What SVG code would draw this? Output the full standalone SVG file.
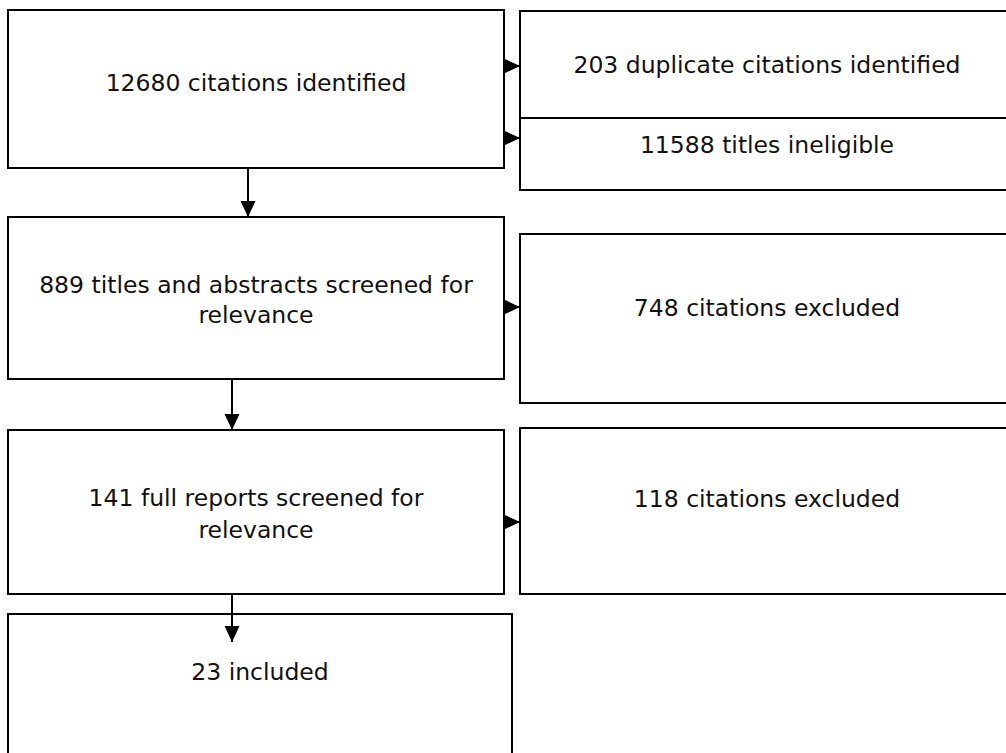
<svg xmlns="http://www.w3.org/2000/svg" width="1006" height="753" viewBox="0 0 1006 753">
<style>
.box{fill:#fff;stroke:#000;stroke-width:2}
.t{font-family:"DejaVu Sans",sans-serif;font-size:23.5px;fill:#111;text-anchor:middle}
.c{stroke:#000;stroke-width:2;fill:none}
</style>
<defs>
<marker id="ah" markerUnits="userSpaceOnUse" markerWidth="16" markerHeight="16" viewBox="0 0 16 16" refX="16" refY="8" orient="auto">
<path d="M0,0.5 L16,8 L0,15.5 Z" fill="#000"/>
</marker>
</defs>
<rect width="1006" height="753" fill="#fff"/>
<g id="n1"><rect class="box" x="8" y="10" width="496" height="158"/><text class="t" x="256" y="91">12680 citations identified</text></g>
<g id="n2"><rect class="box" x="520" y="11" width="500" height="107"/><text class="t" x="767" y="73">203 duplicate citations identified</text></g>
<g id="n3"><rect class="box" x="520" y="118" width="500" height="72"/><text class="t" x="767" y="153">11588 titles ineligible</text></g>
<g id="n4"><rect class="box" x="8" y="217" width="496" height="162"/><text class="t" x="256" y="293">889 titles and abstracts screened for</text><text class="t" x="256" y="323">relevance</text></g>
<g id="n5"><rect class="box" x="520" y="234" width="500" height="169"/><text class="t" x="767" y="316">748 citations excluded</text></g>
<g id="n6"><rect class="box" x="8" y="430" width="496" height="164"/><text class="t" x="256" y="506">141 full reports screened for</text><text class="t" x="256" y="538">relevance</text></g>
<g id="n7"><rect class="box" x="520" y="428" width="500" height="166"/><text class="t" x="767" y="507">118 citations excluded</text></g>
<g id="n8"><rect class="box" x="8" y="614" width="504" height="160"/><text class="t" x="260" y="680">23 included</text></g>
<g id="connectors">
<line class="c" x1="248" y1="168" x2="248" y2="217" marker-end="url(#ah)"/>
<line class="c" x1="232" y1="379" x2="232" y2="430" marker-end="url(#ah)"/>
<line class="c" x1="232" y1="594" x2="232" y2="642" marker-end="url(#ah)"/>
<line class="c" x1="504" y1="66" x2="520" y2="66" marker-end="url(#ah)"/>
<line class="c" x1="504" y1="138" x2="520" y2="138" marker-end="url(#ah)"/>
<line class="c" x1="504" y1="307" x2="520" y2="307" marker-end="url(#ah)"/>
<line class="c" x1="504" y1="522" x2="520" y2="522" marker-end="url(#ah)"/>
</g>
</svg>
